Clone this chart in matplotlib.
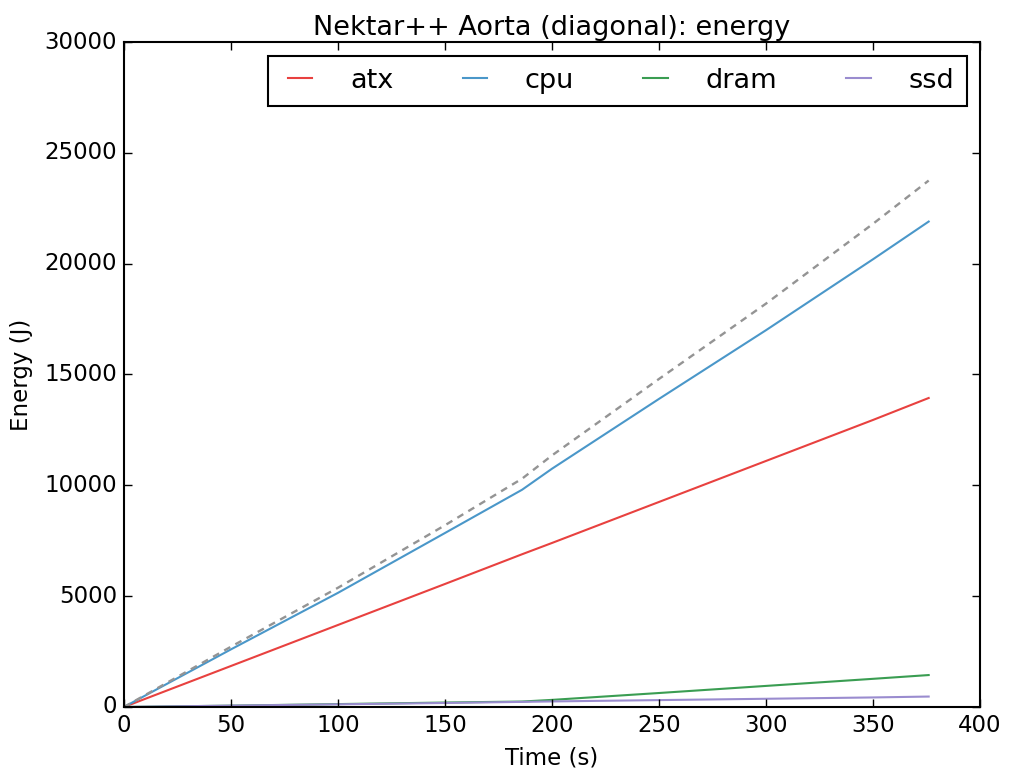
import matplotlib
matplotlib.use("Agg")
import matplotlib.pyplot as plt

# Sample times (s) and cumulative energy (J) per component
time_s = [0, 50, 100, 150, 186, 200, 250, 300, 350, 376]
atx = [0, 1850, 3700, 5550, 6890, 7400, 9250, 11100, 12950, 13940]
cpu = [0, 2600, 5150, 7850, 9800, 10750, 13900, 17000, 20200, 21900]
dram = [0, 60, 130, 200, 245, 320, 630, 950, 1270, 1440]
ssd = [0, 60, 120, 180, 230, 250, 310, 370, 430, 470]
total = [0, 2720, 5380, 8200, 10300, 11350, 14800, 18200, 21800, 23750]

series_names = ["atx", "cpu", "dram", "ssd"]
series_colors = ["#e8413f", "#4a97c9", "#3a9d52", "#9a8ccf"]

plt.style.use("classic")
plt.rcParams["font.family"] = ["DejaVu Sans"]

fig = plt.figure(figsize=(10.09, 7.74), dpi=100, facecolor="white")
ax = fig.add_axes([0.1229, 0.0866, 0.8484, 0.8591])
ax.set_facecolor("white")

for name, values, color in zip(series_names, [atx, cpu, dram, ssd], series_colors):
    ax.plot(time_s, values, color=color, linewidth=1.5, label=name)
ax.plot(time_s, total, color="#949494", linewidth=1.7, linestyle=(0, (5.0, 4.2)))

ax.set_xlim(0, 400)
ax.set_ylim(0, 30000)
ax.set_xticks(range(0, 401, 50))
ax.set_yticks(range(0, 30001, 5000))
ax.tick_params(which="major", direction="in", length=6, width=1, labelsize=16.5,
               top=True, right=True, pad=5)
ax.minorticks_off()
for spine in ax.spines.values():
    spine.set_linewidth(1.5)

ax.set_title("Nektar++ Aorta (diagonal): energy", fontsize=19.5, pad=5)
ax.set_xlabel("Time (s)", fontsize=16.5, labelpad=7)
ax.set_ylabel("Energy (J)", fontsize=16.5, labelpad=8)

leg = ax.legend(loc="upper right", ncol=4, fontsize=19.5, frameon=True,
                fancybox=False, handlelength=1.5, handletextpad=1.1,
                columnspacing=2.25, borderaxespad=0.5, borderpad=0.45)
leg.get_frame().set_edgecolor("black")
leg.get_frame().set_linewidth(1.5)

fig.savefig("out.png", dpi=100, facecolor="white")
